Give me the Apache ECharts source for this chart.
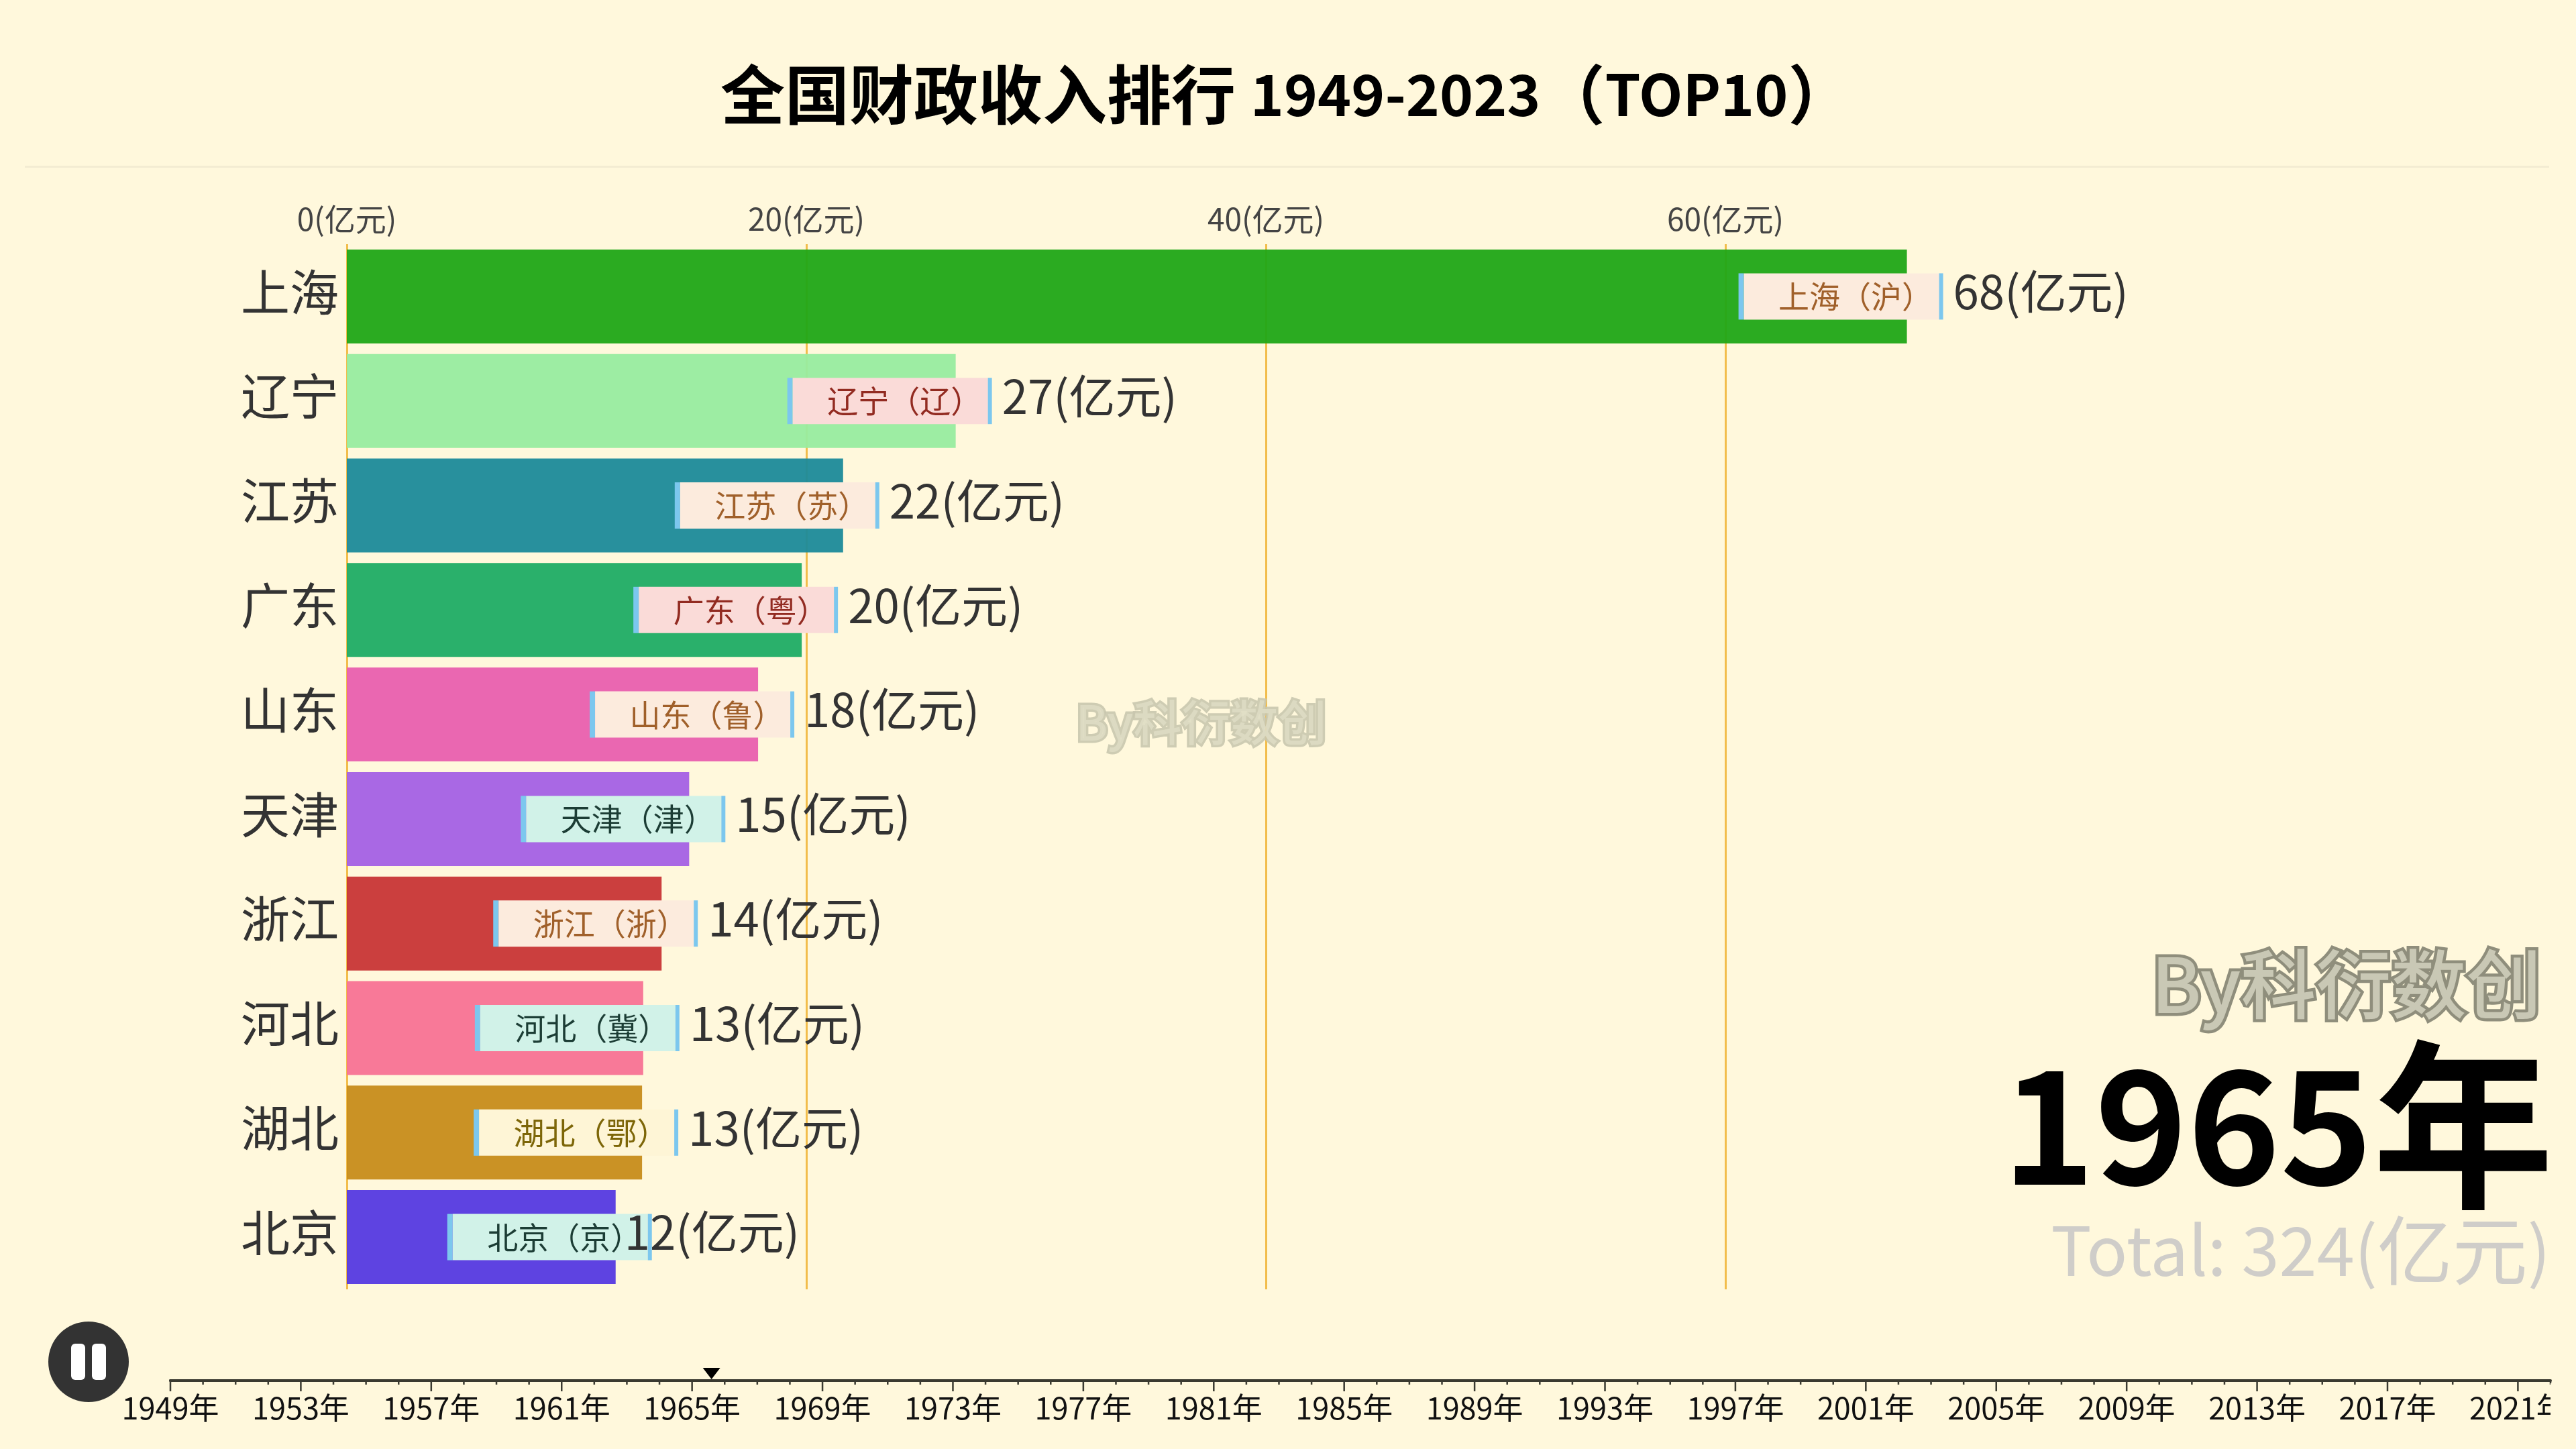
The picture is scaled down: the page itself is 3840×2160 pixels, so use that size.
<!DOCTYPE html>
<html><head><meta charset="utf-8">
<style>html,body{margin:0;padding:0;background:#fff8dc}#c{width:3840px;height:2160px}</style>
<script src="https://cdn.jsdelivr.net/npm/echarts@6/dist/echarts.min.js"></script>
</head><body><div id="c"></div>
<script>
const categories = ['上海','辽宁','江苏','广东','山东','天津','浙江','河北','湖北','北京'];
const values = [67.9,26.5,21.6,19.8,17.9,14.9,13.7,12.9,12.85,11.7];
const shortNames = ['沪','辽','苏','粤','鲁','津','浙','冀','鄂','京'];
const barColors = ['#20a616','#98ec9f','#1c8a99','#1fac64','#e95fae','#a460e4','#c83535','#f87293','#c78c1a','#5539e0'];
const tagKinds = ['warm','pink','warm','pink','warm','mint','warm','mint','cream','mint'];
const years = []; for (let y = 1949; y <= 2022; y++) years.push(y);
const currentYear = 1965;
const totalText = 'Total: 324(';
const unit = '(亿元)';
const watermark = 'By科衍数创';

const CJK = '"Noto Sans CJK SC"';
const BG = '#fff8dc';
const edge = '#7cc7ee';
const tagBase = {width:249,height:69,padding:[0,0,0,42],align:'center',fontSize:46,fontFamily:CJK};
const rich = {
  l:{width:8,height:69,backgroundColor:edge},
  r:{width:6,height:69,backgroundColor:edge},
  warm:{...tagBase,backgroundColor:'#fcebdd',color:'#a0602a'},
  pink:{...tagBase,backgroundColor:'#fadbd8',color:'#922b21'},
  mint:{...tagBase,backgroundColor:'#d1f2e8',color:'#1c3d35'},
  cream:{...tagBase,backgroundColor:'#fef5d6',color:'#7d6608'}
};
const tickColor = '#3a3a30';
const tlLabel = {color:'#111',fontSize:45,fontFamily:CJK};
const chart = echarts.init(document.getElementById('c'), null, {renderer:'canvas',width:3840,height:2160});
const option = {
  animation:false,
  backgroundColor:BG,
  title:{text:'{a|全国财政收入排行 }{b|1949-2023}{a|（}{b|TOP10}{a|）}',left:1069,top:88,
    textStyle:{rich:{
      a:{fontSize:96,fontWeight:'bold',color:'#000',fontFamily:CJK},
      b:{fontSize:85,fontWeight:'bold',color:'#000',fontFamily:CJK}}}},
  timeline:{
    axisType:'category',show:true,autoPlay:false,currentIndex:years.indexOf(currentYear),
    left:254,right:38,top:1998,height:114,padding:0,
    controlStyle:{show:false,showPlayBtn:false,showPrevBtn:false,showNextBtn:false},
    lineStyle:{color:tickColor,width:4},
    symbol:'rect',
    itemStyle:{color:tickColor,borderWidth:0},
    emphasis:{itemStyle:{color:tickColor},label:tlLabel},
    progress:{lineStyle:{color:tickColor},itemStyle:{color:tickColor},label:tlLabel},
    checkpointStyle:{symbol:'path://M-60 -60 L-60 -60 Z M60 60 L60 60 Z M16 -19 L42 -19 L29 -2 Z',symbolSize:120,color:'#000',borderWidth:0,animation:false},
    label:{...tlLabel,interval:3,formatter:v=>v+'年',position:18},
    data:years.map((y,i)=>{const h=i%4===0?16:6;return {value:String(y),symbol:'rect',symbolSize:[2.5,h],symbolOffset:[0,h/2]};})
  },
  grid:{left:517,top:364,width:70*34.25,height:1558,containLabel:false},
  xAxis:{type:'value',position:'top',min:0,max:70,interval:20,
    axisLine:{show:false},axisTick:{show:false},
    axisLabel:{show:true,showMaxLabel:false,margin:14,fontSize:46,color:'#444',fontFamily:CJK,formatter:v=>v+unit},
    splitLine:{show:true,showMaxLine:false,lineStyle:{color:'#f2bd4b',width:3}}
  },
  yAxis:{type:'category',inverse:true,data:categories,
    axisLine:{show:false},axisTick:{show:false},
    axisLabel:{margin:12,formatter:v=>'{n|'+v+'}',
      rich:{n:{fontSize:73,color:'#333',fontFamily:CJK,padding:[0,0,14,0]}}}
  },
  series:[
    {type:'bar',barWidth:140,barGap:'-100%',z:2,
     data:values.map((v,i)=>({value:v,itemStyle:{color:barColors[i],opacity:0.95}})),
     label:{show:true,opacity:1,position:'right',distance:0,offset:[-251,0],rich,
       formatter:p=>`{l| }{${tagKinds[p.dataIndex]}|${p.name}（${shortNames[p.dataIndex]}）}{r| }`}},
    {type:'bar',barWidth:140,barGap:'-100%',z:3,silent:true,
     data:values.map((v,i)=>({value:v,itemStyle:{color:'transparent'},
       label:i===categories.length-1?{offset:[13,-7]}:undefined})),
     label:{show:true,position:'right',distance:0,offset:[69,-7],fontSize:69,color:'#333',fontFamily:CJK,
       formatter:p=>Math.round(p.value)+unit}}
  ],
  graphic:[
    {type:'rect',silent:true,shape:{x:37,y:247,width:3763,height:3},style:{fill:'#f3ecd2'}},
    {type:'rect',silent:true,z:30,shape:{x:3802,y:2062,width:38,height:90},style:{fill:BG}},
    {type:'circle',silent:true,shape:{cx:132,cy:2030,r:60},style:{fill:'#333333'}},
    {type:'rect',silent:true,shape:{x:106,y:2003,width:21,height:54,r:6},style:{fill:'#ffffff'}},
    {type:'rect',silent:true,shape:{x:137,y:2003,width:21,height:54,r:6},style:{fill:'#ffffff'}},
    {type:'text',silent:true,z:20,left:1600,top:1037,style:{text:watermark,font:'500 72px '+CJK,fill:'#dedbc3',stroke:'#c9c6ae',lineWidth:7,opacity:0.9}},
    {type:'text',silent:true,z:20,right:47,top:1407,style:{text:watermark,font:'500 112px '+CJK,fill:'#c9c8b5',stroke:'#8f8e7c',lineWidth:9}},
    {type:'text',silent:true,z:20,right:33,top:1542,style:{
      text:'{d|'+currentYear+'}{n|年}',fill:'#000',
      rich:{d:{fontSize:234,fontWeight:'bold',fontFamily:CJK,fill:'#000'},n:{fontSize:270,fontWeight:'bold',fontFamily:CJK,fill:'#000'}}}},
    {type:'text',silent:true,z:20,right:38,top:1808,style:{
      text:'{a|'+totalText+'}{b|亿元}{a|)}',fill:'#cfcdc9',
      rich:{a:{fontSize:101,fontFamily:CJK,fill:'#cfcdc9'},b:{fontSize:112,fontFamily:CJK,fill:'#cfcdc9'}}}}
  ]
};
chart.setOption(option);
</script></body></html>
